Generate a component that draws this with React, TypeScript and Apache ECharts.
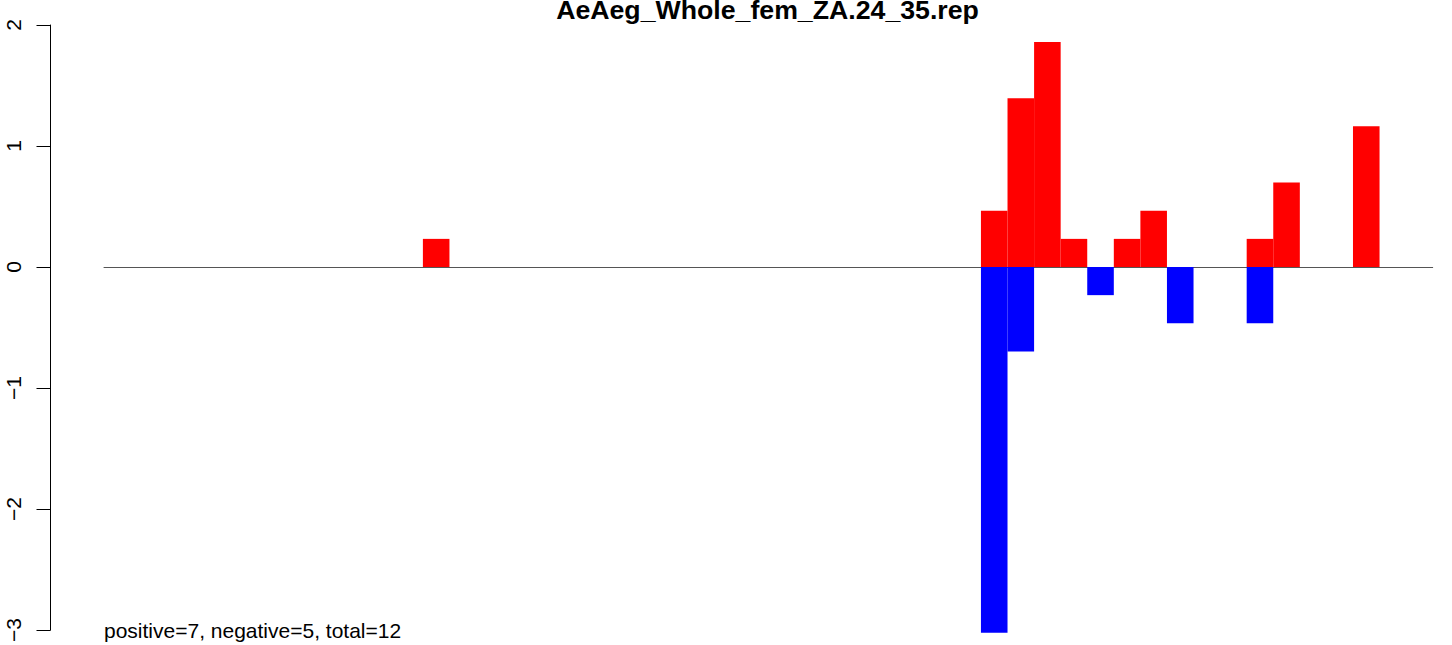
import React, { useEffect, useRef } from "react";
import * as echarts from "echarts";

const titleText = "AeAeg_Whole_fem_ZA.24_35.rep";
const noteText = "positive=7, negative=5, total=12";

const categories = Array.from({ length: 50 }, (_, i) => String(i + 1));

const positive = [
  null, null, null, null, null, null, null, null, null, null,
  null, null, 0.2325, null, null, null, null, null, null, null,
  null, null, null, null, null, null, null, null, null, null,
  null, null, null, 0.465, 1.395, 1.86, 0.2325, null, 0.2325, 0.465,
  null, null, null, 0.2325, 0.6975, null, null, 1.1625, null, null,
];

const negative = [
  null, null, null, null, null, null, null, null, null, null,
  null, null, null, null, null, null, null, null, null, null,
  null, null, null, null, null, null, null, null, null, null,
  null, null, null, -3.0225, -0.6975, null, null, -0.2325, null, null,
  -0.465, null, null, -0.465, null, null, null, null, null, null,
];

const yMin = -3;
const yMax = 2;
const yStep = 1;

export default function App() {
  const ref = useRef<HTMLDivElement>(null);
  useEffect(() => {
    if (!ref.current) return;
    const chart = echarts.init(ref.current, null, { renderer: "svg" });
    const font = "'Liberation Sans', Arial, Helvetica, sans-serif";
    chart.setOption({
      animation: false,
      backgroundColor: "#ffffff",
      textStyle: { fontFamily: font },
      grid: { left: 104, width: 1328.7, top: 25, height: 610, containLabel: false },
      xAxis: {
        type: "category",
        data: categories,
        boundaryGap: true,
        axisLine: { show: true, onZero: true, lineStyle: { color: "#555555", width: 1 } },
        axisTick: { show: false },
        axisLabel: { show: false },
        splitLine: { show: false },
      },
      yAxis: {
        type: "value",
        min: yMin,
        max: yMax,
        interval: yStep,
        offset: 53.5,
        axisLine: { show: true, lineStyle: { color: "#000000", width: 1 } },
        axisTick: { show: true, length: 14, lineStyle: { color: "#000000", width: 1 } },
        axisLabel: {
          show: true,
          rotate: 90,
          margin: 27,
          fontSize: 21,
          color: "#000000",
          fontFamily: font,
          formatter: (v: number) => (v < 0 ? "\u2212" + Math.abs(v) : String(v)),
        },
        splitLine: { show: false },
      },
      series: [
        {
          name: "positive",
          type: "bar",
          data: positive,
          barWidth: "100%",
          barGap: "-100%",
          clip: false,
          itemStyle: { color: "#ff0000" },
        },
        {
          name: "negative",
          type: "bar",
          data: negative,
          barWidth: "100%",
          barGap: "-100%",
          clip: false,
          itemStyle: { color: "#0000ff" },
        },
      ],
      graphic: [
        {
          type: "text",
          x: 767.5,
          y: 10,
          style: {
            text: titleText,
            fontSize: 26.7,
            fontWeight: "bold",
            fontFamily: font,
            fill: "#000000",
            textAlign: "center",
            textVerticalAlign: "middle",
          },
        },
        {
          type: "text",
          x: 104,
          y: 630,
          style: {
            text: noteText,
            fontSize: 21,
            fontFamily: font,
            fill: "#000000",
            textAlign: "left",
            textVerticalAlign: "middle",
          },
        },
      ],
    });
    return () => chart.dispose();
  }, []);
  return (
    <div
      ref={ref}
      style={{ position: "fixed", left: 0, top: 0, width: 1452, height: 645 }}
    />
  );
}
